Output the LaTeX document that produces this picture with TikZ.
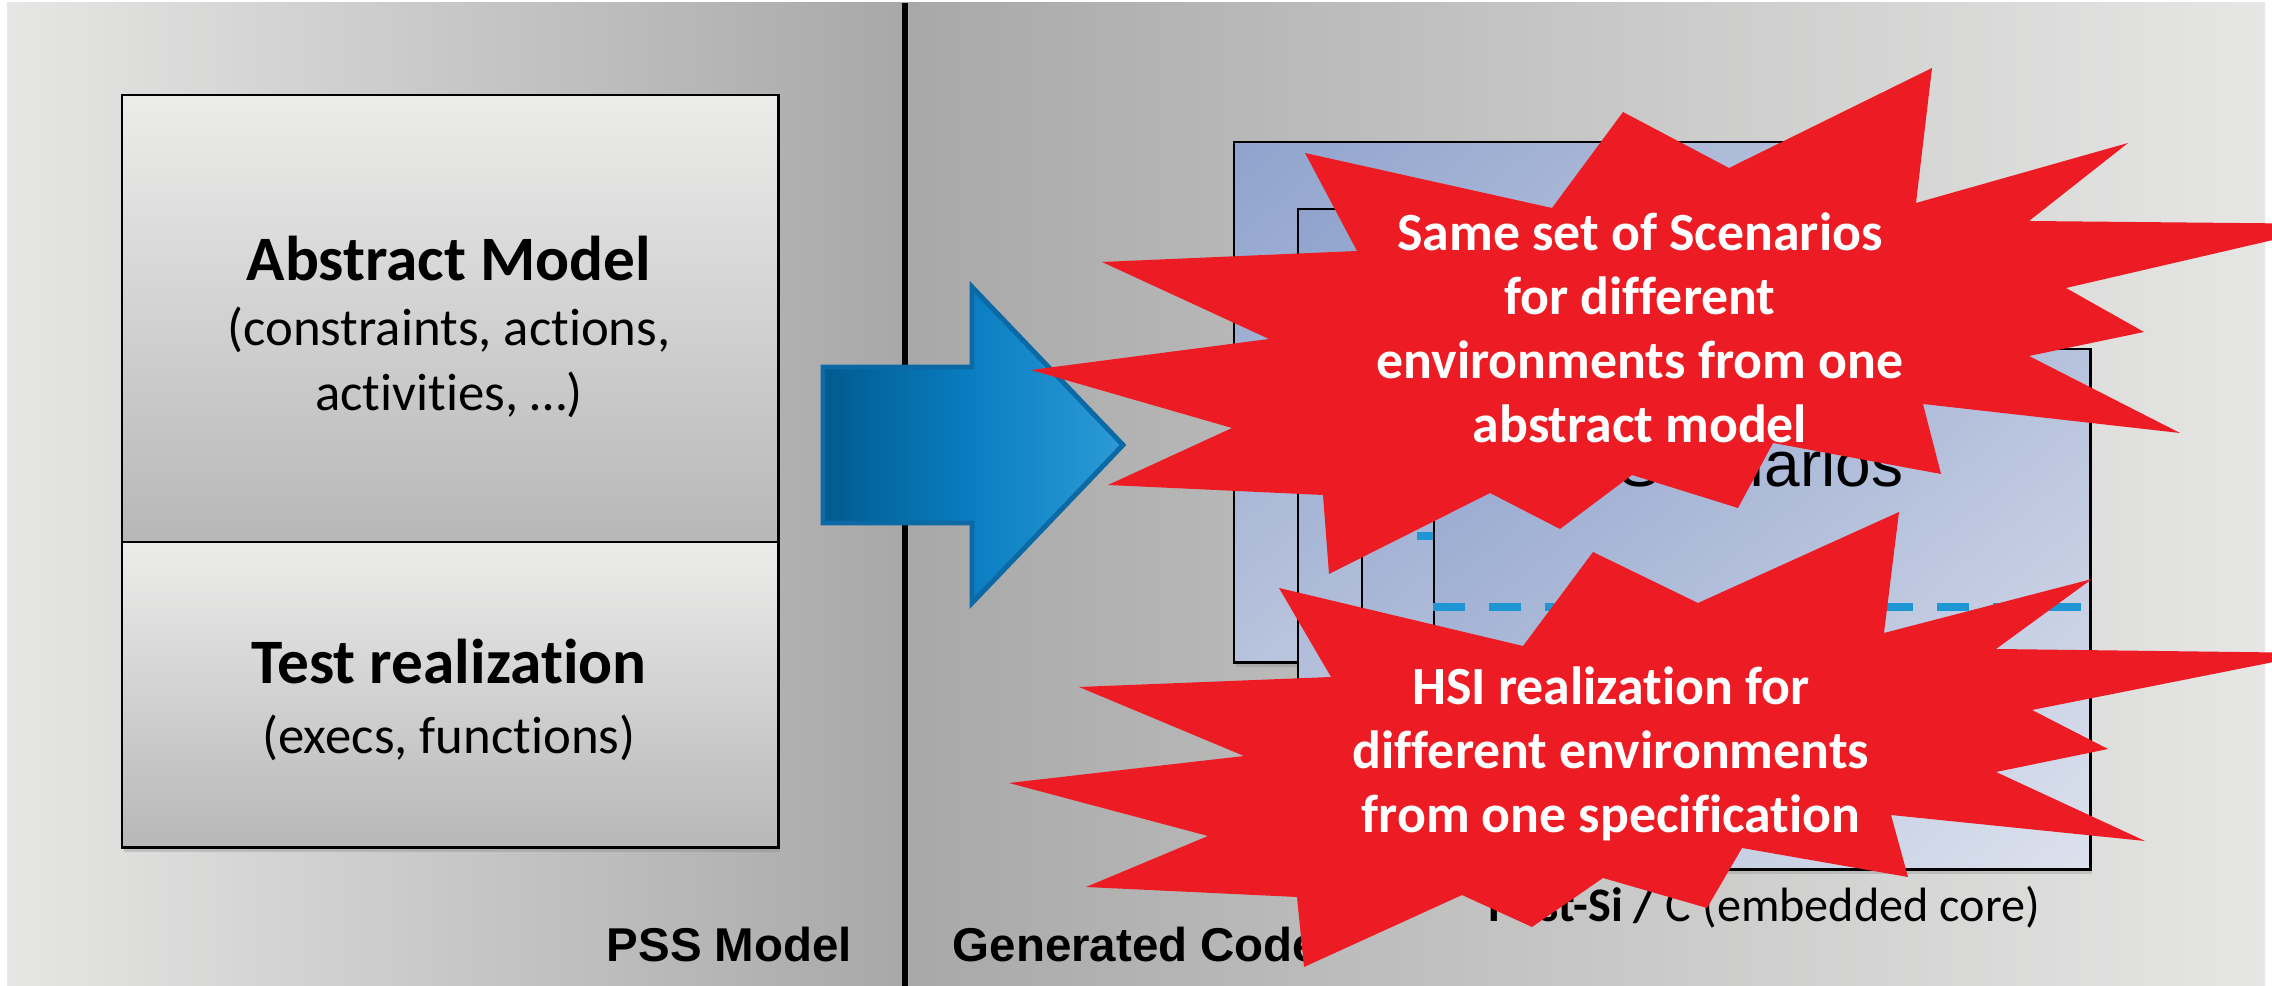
\documentclass[tikz,border=0pt]{standalone}
\usepackage{fontspec}
\setmainfont{Carlito}[Ligatures=NoCommon]
\newfontfamily\arialfont{Liberation Sans}
\usetikzlibrary{shadows, shadings}
\definecolor{BgLight}{HTML}{E6E6E5}
\definecolor{BgDark}{HTML}{A8A8A8}
\definecolor{ModelTop}{HTML}{ECECEB}
\definecolor{ModelBottom}{HTML}{B7B7B7}
\definecolor{EnvUL}{HTML}{8FA3CD}
\definecolor{EnvMid}{HTML}{B7C2DC}
\definecolor{EnvLR}{HTML}{DCE1ED}
\definecolor{ScenBlue}{HTML}{1F96D4}
\definecolor{BurstRed}{HTML}{ED1C24}
\definecolor{ArrowDark}{HTML}{005A8E}
\definecolor{ArrowMid}{HTML}{0A7EC2}
\definecolor{ArrowLight}{HTML}{2C9BD6}
\definecolor{ArrowEdge}{HTML}{0B6AA5}

\begin{document}
\begin{tikzpicture}[
    x=0.01cm, y=-0.01cm,
    modelbox/.style={
        draw=black, line width=0.7pt, top color=ModelTop,
        bottom color=ModelBottom, minimum width=6.56cm, anchor=north west,
        drop shadow={shadow xshift=0.5pt, shadow yshift=-1.2pt, opacity=0.3}
    },
    envbox/.style={
        draw=black, line width=0.7pt, minimum width=6.56cm,
        minimum height=5.2cm, anchor=north west,
        upper left=EnvUL, upper right=EnvMid, lower left=EnvMid,
        lower right=EnvLR,
        drop shadow={shadow xshift=0.5pt, shadow yshift=-1.2pt, opacity=0.3}
    },
    boxtext/.style={align=center, inner sep=0pt},
    scendash/.style={draw=ScenBlue, line width=2pt,
                     dash pattern=on 0.32cm off 0.24cm},
    bigarrow/.style={draw=ArrowEdge, line width=1.4pt, left color=ArrowDark,
                     right color=ArrowLight, middle color=ArrowMid},
    burst/.style={fill=BurstRed},
    bursttext/.style={text=white, align=center, inner sep=0pt,
                      font=\bfseries\fontsize{15.3}{18.2}\selectfont},
    caption/.style={font=\arialfont\bfseries\fontsize{13.5}{16}\selectfont,
                    anchor=base west, inner sep=0pt}
]
\useasboundingbox (0,0) rectangle (2272,986);

% Background
\fill[white] (0,0) rectangle (2272,986);
\shade[left color=BgLight, right color=BgDark] (7,3) rectangle (905,986);
\shade[left color=BgDark, right color=BgLight] (905,3) rectangle (2265,986);
\draw[line width=1.7pt] (905,3) -- (905,986);

% PSS model
\node[modelbox, minimum height=4.47cm] (absbox) at (121,94) {};
\node[modelbox, minimum height=3.05cm] (realbox) at (121,541) {};
\node[boxtext, font=\fontsize{15}{18.6}\selectfont] (abstxt) at (449,327)
    {{\fontsize{18}{18.6}\selectfont\bfseries Abstract Model}\\
     (constraints, actions,\\activities, …)};
\node[boxtext, font=\fontsize{15}{20}\selectfont] (realtxt) at (449,700)
    {{\fontsize{18}{20}\selectfont\bfseries Test realization}\\
     (execs, functions)};

% Generation arrow
\path[bigarrow] (823,367) -- (972,367) -- (972,287) -- (1123,445)
    -- (972,603) -- (972,523) -- (823,523) -- cycle;

% Generated environments
\foreach \n/\x/\y in {A/1233/141, B/1297/208, C/1361/277, D/1433/348} {
    \node[envbox] (env\n) at (\x,\y) {};
    \draw[scendash] (env\n.north west) ++(0,259) -- ++(648,0);
}
\node[font=\arialfont\fontsize{18.2}{20}\selectfont, anchor=base,
      inner sep=0pt] (scen) at (1761,487) {Scenarios};
\node[anchor=base west, inner sep=0pt, font=\fontsize{13.7}{16}\selectfont]
    (postsi) at (1488,922) {\textbf{Post-Si /} C (embedded core)};

% Section captions
\node[caption] (pss) at (606,962) {PSS Model};
\node[caption] (gencode) at (952,962) {Generated Code};

% Bursts
\fill[burst] (1305,153) -- (1552,208) -- (1623,112) -- (1729,168)
    -- (1932,68) -- (1916,203) -- (2128,143) -- (2029,221) -- (2342,224)
    -- (2066,288) -- (2144,332) -- (2029,356) -- (2180,433) -- (1923,404)
    -- (1941,474) -- (1773,443) -- (1738,508) -- (1632,475) -- (1560,529)
    -- (1490,493) -- (1329,574) -- (1323,495) -- (1108,485) -- (1232,428)
    -- (1031,370) -- (1269,339) -- (1102,262) -- (1357,251) -- cycle;
\fill[burst] (1279,588) -- (1523,646) -- (1593,552) -- (1698,603)
    -- (1899,512) -- (1884,633) -- (2092,579) -- (1996,649) -- (2319,653)
    -- (2032,710) -- (2108,749) -- (1996,772) -- (2145,841) -- (1891,815)
    -- (1908,877) -- (1742,848) -- (1707,908) -- (1603,878) -- (1532,927)
    -- (1462,895) -- (1304,967) -- (1297,897) -- (1086,887) -- (1208,836)
    -- (1009,783) -- (1244,756) -- (1079,687) -- (1331,677) -- cycle;

\node[bursttext] (sametxt) at (1640,328)
    {Same set of Scenarios\\for different\\environments from one\\abstract model};
\node[bursttext, font=\bfseries\fontsize{15.3}{18.1}\selectfont] (hsitxt)
    at (1611,754)
    {HSI realization for\\different environments\\from one specification};

\end{tikzpicture}
\end{document}
